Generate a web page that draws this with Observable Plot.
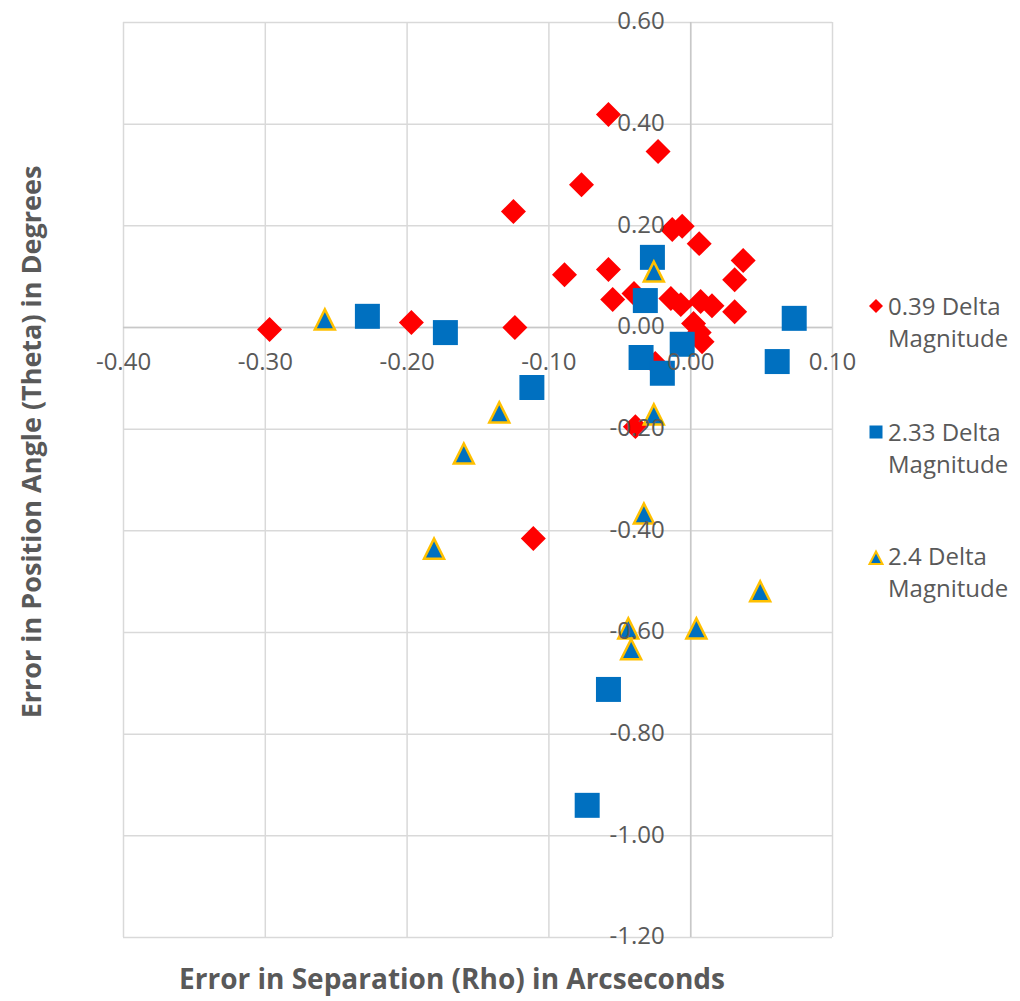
<!DOCTYPE html>
<html>
<head>
<meta charset="utf-8">
<script src="https://cdn.jsdelivr.net/npm/d3@7"></script>
<script src="https://cdn.jsdelivr.net/npm/@observablehq/plot@0.6"></script>
<style>
  body { margin: 0; background: #fff; font-family: "Open Sans", sans-serif; }
  #wrap { display: flex; width: 1020px; height: 1001px; }
  #legend { position: relative; width: 160px; height: 1001px; }
  .item { position: absolute; left: 28px; font-size: 24px; line-height: 32px; color: #595959; white-space: nowrap; }
  .sw { position: absolute; left: 7px; }
</style>
</head>
<body>
<div id="wrap">
  <div id="chart"></div>
  <div id="legend"></div>
</div>
<script>
// Series: 0.39 Delta Magnitude (red diamonds)
const redX = [-0.058, -0.023, -0.077, -0.125, -0.013, -0.006, 0.006, 0.037, 0.031, -0.089, -0.058, -0.055, -0.040, -0.014, -0.007, 0.007, 0.015, 0.031, 0.002, 0.006, 0.008, -0.297, -0.197, -0.124, -0.111, -0.039, -0.025];
const redY = [0.419, 0.346, 0.281, 0.228, 0.193, 0.199, 0.165, 0.132, 0.094, 0.104, 0.114, 0.055, 0.067, 0.057, 0.045, 0.051, 0.043, 0.031, 0.008, -0.010, -0.028, -0.004, 0.010, 0.000, -0.415, -0.195, -0.071];
// Series: 2.33 Delta Magnitude (blue squares)
const blueX = [-0.228, -0.173, -0.112, -0.027, -0.032, -0.035, -0.020, -0.006, 0.073, 0.061, -0.058, -0.073];
const blueY = [0.022, -0.010, -0.118, 0.138, 0.053, -0.059, -0.090, -0.033, 0.018, -0.067, -0.712, -0.940];
// Series: 2.4 Delta Magnitude (triangles)
const triX = [-0.258, -0.026, -0.135, -0.160, -0.181, -0.026, -0.033, 0.049, 0.004, -0.044, -0.042];
const triY = [0.016, 0.110, -0.167, -0.248, -0.435, -0.171, -0.366, -0.519, -0.592, -0.592, -0.633];

const seriesNames = ["0.39 Delta Magnitude", "2.33 Delta Magnitude", "2.4 Delta Magnitude"];

const xTicks = [-0.4, -0.3, -0.2, -0.1, 0, 0.1];
const xTickLabels = ["-0.40", "-0.30", "-0.20", "-0.10", "0.00", "0.10"];
const yTicks = [0.6, 0.4, 0.2, 0, -0.2, -0.4, -0.6, -0.8, -1.0, -1.2];
const yTickLabels = ["0.60", "0.40", "0.20", "0.00", "-0.20", "-0.40", "-0.60", "-0.80", "-1.00", "-1.20"];

const xTitle = "Error in Separation (Rho) in Arcseconds";
const yTitle = "Error in Position Angle (Theta) in Degrees";

const red = "#FF0000", blue = "#0070C0", gold = "#FFC000", textCol = "#595959";

const triSym = {
  draw(ctx, size) {
    const h = Math.sqrt(size) / 2;
    ctx.moveTo(0, -h);
    ctx.lineTo(h, h);
    ctx.lineTo(-h, h);
    ctx.closePath();
  }
};

const redIdx = d3.range(redX.length);
const blueIdx = d3.range(blueX.length);
const triIdx = d3.range(triX.length);

const chart = Plot.plot({
  width: 860,
  height: 1001,
  marginLeft: 123,
  marginRight: 28,
  marginTop: 22,
  marginBottom: 64,
  style: { fontFamily: "Open Sans, sans-serif", background: "#fff" },
  x: { domain: [-0.4, 0.1], axis: null },
  y: { domain: [-1.2, 0.6], axis: null },
  marks: [
    Plot.ruleX(xTicks, { x: d => d, stroke: "#d9d9d9", strokeWidth: 1.5 }),
    Plot.ruleY(yTicks, { y: d => d, stroke: "#d9d9d9", strokeWidth: 1.5 }),
    Plot.ruleX([0], { stroke: "#c8c8c8", strokeWidth: 1.5 }),
    Plot.ruleY([0], { stroke: "#c8c8c8", strokeWidth: 1.5 }),
    Plot.dot(redIdx, { x: i => redX[i], y: i => redY[i], symbol: "diamond2", r: 11.26, fill: red }),
    Plot.dot(blueIdx, { x: i => blueX[i], y: i => blueY[i], symbol: "square", r: 14.1, fill: blue }),
    Plot.dot(triIdx, { x: i => triX[i], y: i => triY[i], symbol: triSym, r: 11.3, fill: blue, stroke: gold, strokeWidth: 2.5 }),
    Plot.text(xTicks, { x: d => d, y: () => 0, text: (d, i) => xTickLabels[i], dy: 35, fontSize: 24, fill: textCol }),
    Plot.text(yTicks, { x: () => 0, y: d => d, text: (d, i) => yTickLabels[i], dx: -26, dy: -1, textAnchor: "end", fontSize: 24, fill: textCol }),
    Plot.text([xTitle], { frameAnchor: "bottom", text: d => d, textAnchor: "middle", lineAnchor: "middle", dx: -26, dy: 43, fontSize: 28, fontWeight: "bold", fill: textCol }),
    Plot.text([yTitle], { frameAnchor: "left", text: d => d, textAnchor: "middle", lineAnchor: "middle", rotate: -90, dx: -91, dy: -38, fontSize: 27, fontWeight: "bold", fill: textCol })
  ]
});
document.getElementById("chart").appendChild(chart);

// Legend
const legend = document.getElementById("legend");
const swatches = [
  `<svg width="18" height="18" viewBox="-9 -9 18 18"><path d="M0,-7L7,0L0,7L-7,0Z" fill="${red}"/></svg>`,
  `<svg width="18" height="18" viewBox="-9 -9 18 18"><rect x="-6.5" y="-6.5" width="13" height="13" fill="${blue}"/></svg>`,
  `<svg width="18" height="18" viewBox="-9 -9 18 18"><path d="M0,-6.5L6.5,6L-6.5,6Z" fill="${blue}" stroke="${gold}" stroke-width="2"/></svg>`
];
const tops = [290, 416, 540];
const swY = [306, 432, 558];
seriesNames.forEach((name, i) => {
  const parts = name.split(" ");
  const item = document.createElement("div");
  item.className = "item";
  item.style.top = tops[i] + "px";
  item.innerHTML = parts.slice(0, 2).join(" ") + "<br>" + parts.slice(2).join(" ");
  legend.appendChild(item);
  const sw = document.createElement("div");
  sw.className = "sw";
  sw.style.top = (swY[i] - 9) + "px";
  sw.innerHTML = swatches[i];
  legend.appendChild(sw);
});
</script>
</body>
</html>
